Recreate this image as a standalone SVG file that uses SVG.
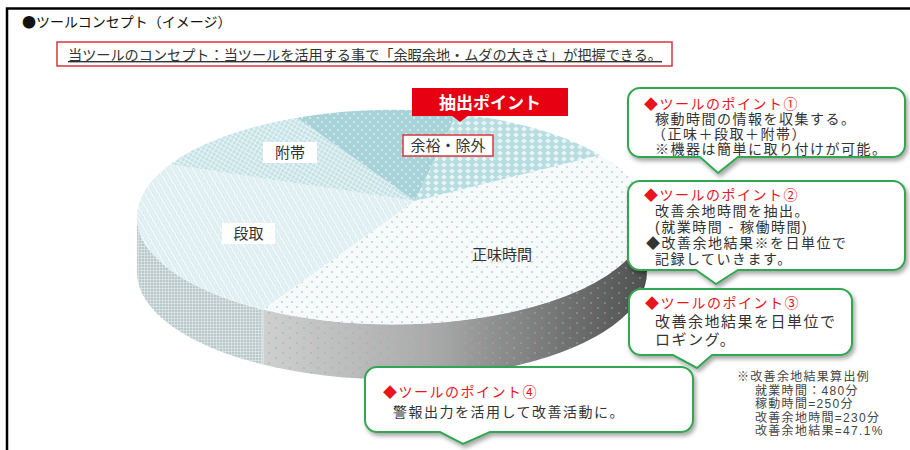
<svg xmlns="http://www.w3.org/2000/svg" width="910" height="450" viewBox="0 0 910 450">
<defs>
<style>
text{font-family:"Noto Sans CJK JP","Noto Sans",sans-serif;}
.hd{font-size:14px;fill:#111;}
.ct{font-size:14px;fill:#333;text-decoration:underline;}
.lbl{font-size:15px;fill:#333;text-anchor:middle;}
.co{fill:#fff;stroke:#33a651;stroke-width:2;filter:url(#sh);}
.tx{font-family:"Liberation Sans","Noto Sans CJK JP",sans-serif;font-size:14px;fill:#333;letter-spacing:1.5px;}
.tx3{font-family:"Liberation Sans","Noto Sans CJK JP",sans-serif;font-size:15px;fill:#333;letter-spacing:1.5px;}
.red{fill:#e8151d;}
.an{font-family:"Liberation Sans","Noto Sans CJK JP",sans-serif;font-size:12px;fill:#444;letter-spacing:1.3px;}
.wb{fill:#fff;}
</style>
<filter id="sh" x="-10%" y="-15%" width="120%" height="140%">
<feDropShadow dx="2" dy="3" stdDeviation="2" flood-color="#000" flood-opacity="0.35"/>
</filter>
<pattern id="pDots" width="10" height="10" patternUnits="userSpaceOnUse">
<rect width="10" height="10" fill="#f6fafa"/>
<circle cx="2" cy="2" r="0.9" fill="#b9cccd"/>
<circle cx="7" cy="7" r="0.9" fill="#b9cccd"/>
</pattern>
<pattern id="pWave" width="6" height="6" patternUnits="userSpaceOnUse" patternTransform="rotate(60)">
<rect width="6" height="6" fill="#d9ecef"/>
<path d="M0,1.5 Q1.5,0.5 3,1.5 T6,1.5" fill="none" stroke="#fff" stroke-width="1.2"/>
<path d="M0,4.5 Q1.5,3.5 3,4.5 T6,4.5" fill="none" stroke="#f2f9fa" stroke-width="0.8"/>
</pattern>
<pattern id="pHatch" width="4" height="4" patternUnits="userSpaceOnUse" patternTransform="rotate(30)">
<rect width="4" height="4" fill="#c4e1e5"/>
<path d="M0,0.5 H4 M0.5,0 V4" stroke="#eef8f9" stroke-width="0.8"/>
</pattern>
<pattern id="pTeal" width="8" height="8" patternUnits="userSpaceOnUse">
<rect width="8" height="8" fill="#a7d2d7"/>
<circle cx="2" cy="2" r="0.9" fill="#e6f4f5"/>
<circle cx="6" cy="6" r="0.9" fill="#e6f4f5"/>
</pattern>
<pattern id="pDiam" width="8" height="6" patternUnits="userSpaceOnUse">
<rect width="8" height="6" fill="#b7dde1"/>
<path d="M4,0.5 L7,3 L4,5.5 L1,3 Z" fill="#e8f5f6"/>
</pattern>
<pattern id="pGrid" width="3" height="3" patternUnits="userSpaceOnUse">
<rect width="3" height="3" fill="#b9c8c9"/>
<path d="M0,0.5 H3 M0.5,0 V3" stroke="#dfe8e8" stroke-width="0.7"/>
</pattern>
<pattern id="pSideDots" width="14" height="10" patternUnits="userSpaceOnUse">
<circle cx="3" cy="3" r="1" fill="#8fb2b4" opacity="0.6"/>
<circle cx="10" cy="8" r="1" fill="#8fb2b4" opacity="0.6"/>
</pattern>
<linearGradient id="gSide" x1="263" y1="0" x2="647" y2="0" gradientUnits="userSpaceOnUse">
<stop offset="0" stop-color="#cfcfcf"/>
<stop offset="0.45" stop-color="#a9a9a9"/>
<stop offset="1" stop-color="#4f4f4f"/>
</linearGradient>
</defs>

<rect width="910" height="450" fill="#fff"/>
<path d="M7,450 V8.5 H910" fill="none" stroke="#000" stroke-width="2.5"/>

<g id="header">
<text class="hd" x="22" y="27">●ツールコンセプト（イメージ）</text>
</g>

<g id="concept">
<rect x="57" y="42" width="615" height="24" fill="none" stroke="#d9363e" stroke-width="1.5"/>
<text class="ct" x="68" y="60" textLength="594" lengthAdjust="spacingAndGlyphs">当ツールのコンセプト：当ツールを活用する事で「余暇余地・ムダの大きさ」が把握できる。</text>
</g>

<g id="pie">
<g id="pie-side">
<path d="M137,217 A255,107 0 0 0 263,309.5 L263,364.5 A255,107 0 0 1 137,272 Z" fill="url(#pGrid)"/>
<path d="M263,309.5 A255,107 0 0 0 647,217 L647,272 A255,107 0 0 1 263,364.5 Z" fill="url(#gSide)"/>
<path d="M263,309.5 A255,107 0 0 0 647,217 L647,272 A255,107 0 0 1 263,364.5 Z" fill="url(#pSideDots)"/>
<line x1="263" y1="309.5" x2="263" y2="364.5" stroke="#e8eeee" stroke-width="1"/>
</g>
<g id="slice-shomi">
<path d="M415,201 L600,155 A255,107 0 0 1 263,309.5 Z" fill="url(#pDots)"/>
</g>
<g id="slice-dandori">
<path d="M415,201 L263,309.5 A255,107 0 0 1 170,164.5 Z" fill="url(#pWave)"/>
</g>
<g id="slice-futai">
<path d="M415,201 L170,164.5 A255,107 0 0 1 297,117.7 Z" fill="url(#pHatch)"/>
</g>
<g id="slice-yoyu">
<path d="M415,201 L297,117.7 A255,107 0 0 1 457,113.5 Z" fill="url(#pTeal)"/>
</g>
<g id="slice-jogai">
<path d="M415,201 L457,113.5 A255,107 0 0 1 600,155 Z" fill="url(#pDiam)"/>
</g>
</g>

<g id="label-futai">
<rect class="wb" x="263" y="142" width="54" height="21"/>
<text class="lbl" x="290" y="158">附帯</text>
</g>
<g id="label-dandori">
<rect class="wb" x="222" y="223" width="53" height="21"/>
<text class="lbl" x="248.5" y="239">段取</text>
</g>
<g id="label-yoyu">
<rect x="403" y="135" width="90" height="21" fill="#fff" stroke="#d9363e" stroke-width="1.5"/>
<text class="lbl" x="448" y="151">余裕・除外</text>
</g>
<g id="label-shomi">
<text class="lbl" x="502" y="260">正味時間</text>
</g>
<g id="label-chushutsu">
<rect x="412" y="88" width="156" height="28" fill="#e60012"/>
<polygon points="451,115 469,115 460,122" fill="#e60012"/>
<text x="490" y="109" font-size="17" font-weight="bold" fill="#fff" text-anchor="middle">抽出ポイント</text>
</g>

<g id="callout1">
<path class="co" d="M640,88 H893 A12,12 0 0 1 905,100 V145 A12,12 0 0 1 893,157 H738 L718,173 L700,157 H640 A12,12 0 0 1 628,145 V100 A12,12 0 0 1 640,88 Z"/>
<text class="tx"><tspan class="red" x="644" y="109">◆ツールのポイント①</tspan><tspan x="655" y="124">稼動時間の情報を収集する。</tspan><tspan x="652" y="139">（正味＋段取＋附帯）</tspan><tspan x="655" y="154">※機器は簡単に取り付けが可能。</tspan></text>
</g>

<g id="callout2">
<path class="co" d="M640,181 H893 A12,12 0 0 1 905,193 V258 A12,12 0 0 1 893,270 H738 L716,284 L696,270 H640 A12,12 0 0 1 628,258 V193 A12,12 0 0 1 640,181 Z"/>
<text class="tx"><tspan class="red" x="644" y="200">◆ツールのポイント②</tspan><tspan x="655" y="216">改善余地時間を抽出。</tspan><tspan x="655" y="232">(就業時間 - 稼働時間)</tspan><tspan x="646" y="248">◆改善余地結果※を日単位で</tspan><tspan x="655" y="264">記録していきます。</tspan></text>
</g>

<g id="callout3">
<path class="co" d="M641,289 H840 A12,12 0 0 1 852,301 V343 A12,12 0 0 1 840,355 H712 L697,368 L673,355 H641 A12,12 0 0 1 629,343 V301 A12,12 0 0 1 641,289 Z"/>
<text class="tx3"><tspan class="red" x="645" y="308" font-size="14">◆ツールのポイント③</tspan><tspan x="655" y="327">改善余地結果を日単位で</tspan><tspan x="655" y="345">ロギング。</tspan></text>
</g>

<g id="callout4">
<path class="co" d="M377,367 H681 A12,12 0 0 1 693,379 V420 A12,12 0 0 1 681,432 H490 L463,444 L440,432 H377 A12,12 0 0 1 365,420 V379 A12,12 0 0 1 377,367 Z"/>
<text class="tx"><tspan class="red" x="383" y="397">◆ツールのポイント④</tspan><tspan x="393" y="417">警報出力を活用して改善活動に。</tspan></text>
</g>

<g id="note">
<text class="an"><tspan x="737" y="381">※改善余地結果算出例</tspan><tspan x="755" y="394.5">就業時間：480分</tspan><tspan x="755" y="408">稼動時間=250分</tspan><tspan x="755" y="421.5">改善余地時間=230分</tspan><tspan x="755" y="435">改善余地結果=47.1%</tspan></text>
</g>
</svg>
